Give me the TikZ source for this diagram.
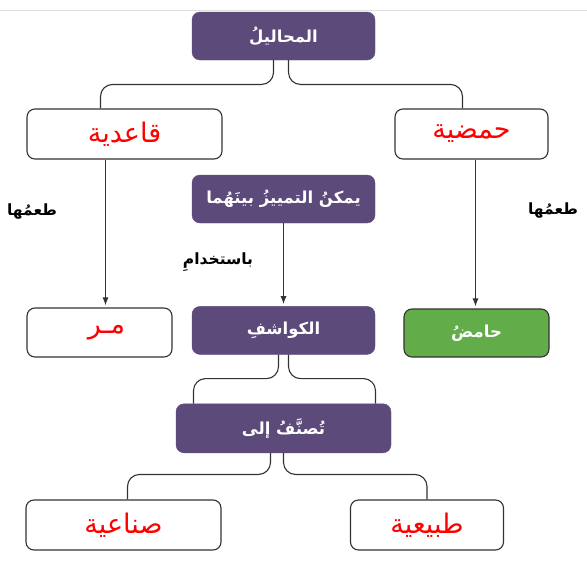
\documentclass[tikz,border=0pt]{standalone}
\usepackage{fontspec}
\newfontfamily\arabicfont[Script=Arabic]{DejaVu Sans}
\TeXXeTstate=1
\usetikzlibrary{positioning,arrows.meta,calc}

\definecolor{plum}{HTML}{5C4A7B}
\definecolor{leaf}{HTML}{62AC4A}
\definecolor{wire}{HTML}{333333}

\newcommand{\artext}[1]{{\arabicfont\beginR #1\endR}}

\begin{document}
\begin{tikzpicture}[
      x=1pt, y=1pt,
      >={Latex[length=8pt,width=6pt]},
      auto
    ]

    \tikzstyle{topic} = [rectangle, rounded corners=8pt, minimum height=48pt, text centered, inner sep=0pt, draw=plum, fill=plum, text=white, font=\fontsize{16.5}{19}\selectfont\bfseries]
    \tikzstyle{answer} = [rectangle, rounded corners=8pt, minimum height=50pt, text centered, inner sep=0pt, draw=wire, line width=1.1pt, fill=white, text=red, font=\fontsize{27}{30}\selectfont]
    \tikzstyle{found} = [answer, fill=leaf, text=white, font=\fontsize{16.5}{19}\selectfont\bfseries]
    \tikzstyle{remark} = [font=\fontsize{15.5}{18}\selectfont\bfseries, text=black]
    \tikzstyle{branch} = [draw=wire, line width=1.1pt, rounded corners=12pt]
    \tikzstyle{arrow} = [draw=wire, line width=1pt, ->, shorten >=2pt]

    \useasboundingbox (0,0) rectangle (587,-562);
    \draw [gray!25, line width=0.8pt] (0,-10) -- (587,-10);

    \node [topic, minimum width=183pt] (sol) at (283.5,-36) {
    	\artext{المحاليلُ}
        };
    \node [answer, minimum width=195pt] (base) at (124.5,-134) {
    	\artext{قاعدية}
        };
    \node [answer, minimum width=153pt] (acid) at (471.5,-134) {
    	\artext{حمضية}
        };
    \node [topic, minimum width=183pt] (tell) at (283.5,-199) {
    	\artext{يمكنُ التمييزُ بينَهُما}
        };
    \node [topic, minimum width=183pt] (ind) [below=83pt of tell] {
    	\artext{الكواشفِ}
        };
    \node [topic, minimum width=215pt, minimum height=49pt] (sort) [below=49pt of ind] {
    	\artext{تُصنَّفُ إلى}
        };
    \node [answer, minimum width=145pt, minimum height=49pt] (bitter) at (99.5,-332.5) {
    	\hspace{14pt}\artext{مـر}
        };
    \node [found, minimum width=145pt, minimum height=48pt] (sour) at (476.5,-333) {
    	\artext{حامضُ}
        };
    \node [answer, minimum width=195pt] (synth) at (123.5,-525) {
    	\artext{صناعية}
        };
    \node [answer, minimum width=153pt] (nat) at (427,-525) {
    	\artext{طبيعية}
        };

    \node [remark] (tasteL) at (32,-212) {\artext{طعمُها}};
    \node [remark] (tasteR) at (553,-211) {\artext{طعمُها}};
    \node [remark] (using) at (218,-262) {\artext{باستخدامِ}};

    \draw [branch] ([xshift=-10pt]sol.south) |- ($([xshift=-24pt]base.north)+(0,24)$) -- ([xshift=-24pt]base.north);
    \draw [branch] ([xshift=5pt]sol.south) |- ($([xshift=-9pt]acid.north)+(0,24)$) -- ([xshift=-9pt]acid.north);

    \draw [arrow] ([xshift=-19pt]base.south) -- ([xshift=-19pt]base.south |- bitter.north);
    \draw [arrow] (tell.south) -- (ind.north);
    \draw [arrow] ([xshift=4pt]acid.south) -- ([xshift=4pt]acid.south |- sour.north);

    \draw [branch] ([xshift=-5pt]ind.south) |- ($([xshift=-90pt]sort.north)+(0,25)$) -- ([xshift=-90pt]sort.north);
    \draw [branch] ([xshift=5pt]ind.south) |- ($([xshift=92pt]sort.north)+(0,25)$) -- ([xshift=92pt]sort.north);

    \draw [branch] ([xshift=-13pt]sort.south) |- ($([xshift=4pt]synth.north)+(0,25)$) -- ([xshift=4pt]synth.north);
    \draw [branch] (sort.south) |- ($([xshift=0pt]nat.north)+(0,25)$) -- (nat.north);

\end{tikzpicture}
\end{document}
